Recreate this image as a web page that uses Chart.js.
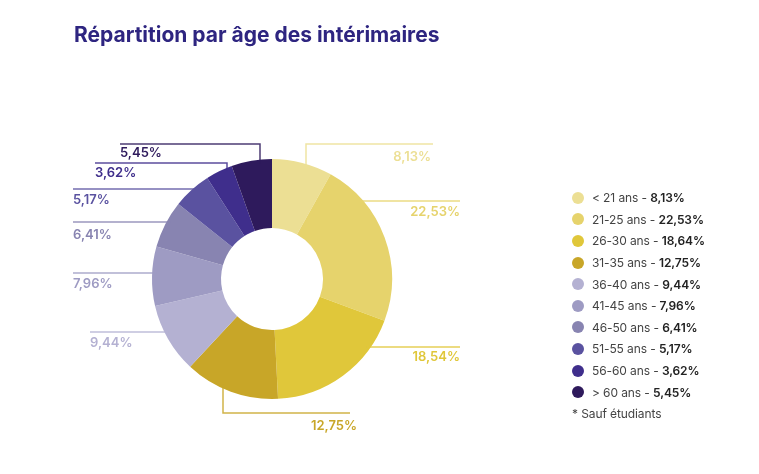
<!DOCTYPE html>
<html>
<head>
<meta charset="utf-8">
<script src="https://cdn.jsdelivr.net/npm/chart.js@4/dist/chart.umd.min.js"></script>
<style>
  body { margin: 0; background: #fff; font-family: Inter, "Noto Sans", sans-serif; }
  #wrap { position: relative; width: 759px; height: 474px; }
  #title { position: absolute; left: 74px; top: 22px; font-size: 21px; font-weight: 700; color: #2e2580; }
  #legend { position: absolute; left: 572px; top: 187px; font-size: 12px; color: #444; letter-spacing: -0.1px; }
  #legend .row { height: 21.6px; display: flex; align-items: center; }
  #legend .dot { width: 12px; height: 12px; border-radius: 50%; margin-right: 8px; }
  #legend b { font-weight: 600; color: #222; }
  #legend .note { margin-top: 0; color: #444; }
</style>
</head>
<body>
<div id="wrap">
  <div id="title">Répartition par âge des intérimaires</div>
  <canvas id="age_chart" width="759" height="474"></canvas>
  <div id="legend"></div>
</div>
<script>
const ageGroups = ['< 21 ans', '21-25 ans', '26-30 ans', '31-35 ans', '36-40 ans', '41-45 ans', '46-50 ans', '51-55 ans', '56-60 ans', '> 60 ans'];
const shares = [8.13, 22.53, 18.54, 12.75, 9.44, 7.96, 6.41, 5.17, 3.62, 5.45];
const legendShares = [8.13, 22.53, 18.64, 12.75, 9.44, 7.96, 6.41, 5.17, 3.62, 5.45];
const sliceColors = ['#ecdf94', '#e6d36c', '#e0c73a', '#c8a628', '#b4b1d2', '#9e9bc3', '#8884b1', '#5a52a0', '#3f2e8c', '#2e1a5c'];
const footnote = '* Sauf étudiants';

const fmt = v => v.toFixed(2).replace('.', ',') + '%';

// leader lines, offsets from the donut centre
const callouts = [
  { v: 34, lvl: -135, end: 161, tx: 159, ty: -122, align: 'right' },
  { h: -78, end: 188, tx: 188, ty: -67, align: 'right' },
  { h: 68, end: 188, tx: 188, ty: 78, align: 'right' },
  { v: -49, lvl: 134, end: 78, tx: 85, ty: 147, align: 'right' },
  { h: 53, end: -182, tx: -182, ty: 64, align: 'left' },
  { h: -6, end: -199, tx: -199, ty: 5, align: 'left' },
  { h: -57, end: -199, tx: -199, ty: -44, align: 'left' },
  { h: -90, end: -199, tx: -199, ty: -79, align: 'left' },
  { v: -45, lvl: -116, end: -177, tx: -177, ty: -106, align: 'left' },
  { v: -12, lvl: -135, end: -152, tx: -152, ty: -126, align: 'left' }
];

const calloutPlugin = {
  id: 'callouts',
  afterDatasetsDraw(chart) {
    const ctx = chart.ctx;
    const meta = chart.getDatasetMeta(0);
    meta.data.forEach((arc, i) => {
      const c = callouts[i];
      const { x, y, outerRadius } = arc.getProps(['x', 'y', 'outerRadius'], true);
      const R = outerRadius;
      let pts;
      if (c.v !== undefined) {
        const s = c.lvl < 0 ? -1 : 1;
        const ey = s * Math.sqrt(R * R - c.v * c.v);
        pts = [[c.v, ey - s * 4], [c.v, c.lvl], [c.end, c.lvl]];
      } else {
        const s = c.end < 0 ? -1 : 1;
        const ex = s * Math.sqrt(R * R - c.h * c.h);
        pts = [[ex - s * 4, c.h], [c.end, c.h]];
      }
      ctx.save();
      ctx.strokeStyle = sliceColors[i];
      ctx.globalAlpha = 0.85;
      ctx.lineWidth = 1.5;
      ctx.beginPath();
      pts.forEach((p, k) => k ? ctx.lineTo(x + p[0], y + p[1]) : ctx.moveTo(x + p[0], y + p[1]));
      ctx.stroke();
      ctx.globalAlpha = 1;
      ctx.fillStyle = sliceColors[i];
      ctx.font = '600 13px Inter, "Noto Sans", sans-serif';
      ctx.textAlign = c.align;
      ctx.textBaseline = 'middle';
      ctx.fillText(fmt(shares[i]), x + c.tx, y + c.ty);
      ctx.restore();
    });
  }
};

new Chart(document.getElementById('age_chart'), {
  type: 'doughnut',
  data: {
    labels: ageGroups,
    datasets: [{
      data: shares,
      backgroundColor: sliceColors,
      borderWidth: 0,
      hoverOffset: 0
    }]
  },
  options: {
    responsive: false,
    animation: false,
    cutout: '42.5%',
    layout: { padding: { left: 152, right: 367, top: 159, bottom: 75 } },
    plugins: {
      legend: { display: false },
      tooltip: { enabled: false }
    }
  },
  plugins: [calloutPlugin]
});

const legendEl = document.getElementById('legend');
ageGroups.forEach((g, i) => {
  const row = document.createElement('div');
  row.className = 'row';
  row.innerHTML = '<span class="dot" style="background:' + sliceColors[i] + '"></span>' +
    '<span>' + g.replace('<', '&lt;').replace('>', '&gt;') + ' - <b>' + fmt(legendShares[i]) + '</b></span>';
  legendEl.appendChild(row);
});
const note = document.createElement('div');
note.className = 'row note';
note.textContent = footnote;
legendEl.appendChild(note);
</script>
</body>
</html>
